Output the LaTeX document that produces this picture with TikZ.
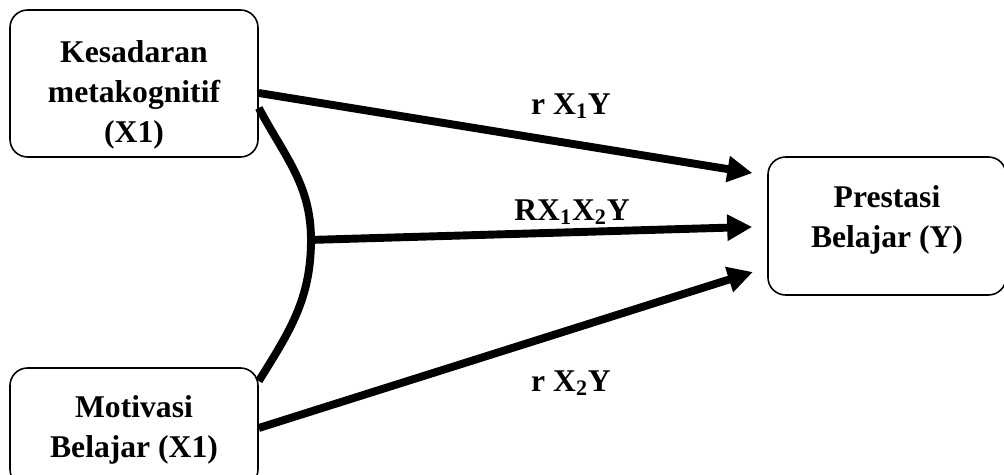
\documentclass[tikz,border=0pt]{standalone}
\usepackage{fontspec}
\setmainfont{Liberation Serif}
\usetikzlibrary{arrows.meta,positioning,calc}

\begin{document}
\begin{tikzpicture}[
    box/.style={draw=black,line width=0.9pt,rounded corners=10pt},
    txt/.style={align=center,font=\fontsize{18}{22.7}\selectfont\bfseries},
    lbl/.style={font=\fontsize{18}{20}\selectfont\bfseries},
    arr/.style={-{Triangle[length=5mm,width=5mm]},line width=4.5pt,shorten >=3mm}]

    \useasboundingbox (0,0) rectangle (20.08,9.5);
    \clip (0,0) rectangle (20.08,9.5);

    % ── variabel bebas ───────────────────────────────────
    \node[box,minimum width=4.96cm,minimum height=2.94cm] (x1) at (2.68,7.83){};
    \node[txt] (x1t) at (2.68,7.6){Kesadaran\\metakognitif\\(X1)};

    \node[box,minimum width=4.96cm,minimum height=2.38cm] (x2) at (2.68,0.95){};
    \node[txt] (x2t) at (2.68,0.9){Motivasi\\Belajar (X1)};

    % ── variabel terikat ─────────────────────────────────
    \node[box,minimum width=4.76cm,minimum height=2.76cm] (y) at (17.74,4.98){};
    \node[txt] (yt) at (17.74,5.1){Prestasi\\Belajar (Y)};

    % kurung penghubung X1 -- X2
    \coordinate (j) at (6.22,4.7);
    \draw[line width=4.5pt] ([yshift=-4.9mm]x1.east) to[out=-62,in=90] (j)
        to[out=-90,in=58] ([yshift=9.3mm]x2.east);

    % ── panah ke Y ───────────────────────────────────────
    \draw[arr] ([yshift=-1.9mm]x1.east) -- ([yshift=10.1mm]y.west);
    \draw[arr] ([xshift=-0.4mm]j) -- ([yshift=-0.1mm]y.west);
    \draw[arr] ([yshift=-0.1mm]x2.east) -- ([yshift=-8.3mm]y.west);

    % label koefisien
    \node[lbl] (r1) at (11.42,7.38){r X\textsubscript{1}Y};
    \node[lbl] (r12) at (11.44,5.26){RX\textsubscript{1}X\textsubscript{2}Y};
    \node[lbl] (r2) at (11.42,1.84){r X\textsubscript{2}Y};

\end{tikzpicture}
\end{document}
